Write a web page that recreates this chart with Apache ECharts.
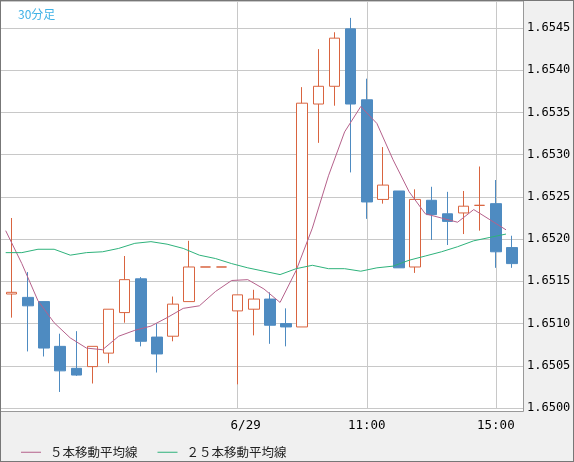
<!DOCTYPE html>
<html>
<head>
<meta charset="utf-8">
<script src="https://cdn.jsdelivr.net/npm/echarts@6/dist/echarts.min.js"></script>
<style>
  html, body { margin: 0; padding: 0; background: #f0f0f0; }
  #wrap { position: relative; width: 574px; height: 462px; }
  #main { width: 574px; height: 462px; }
  #frame {
    position: absolute; left: 0; top: 0; width: 574px; height: 462px;
    box-sizing: border-box; border: 1px solid #777; pointer-events: none;
  }
</style>
</head>
<body>
<div id="wrap"><div id="main"></div><div id="frame"></div></div>
<script>
// 30分足のローソク足
const categories = [
  '6/27 00:00', '6/27 00:30', '6/27 01:00', '6/27 01:30', '6/27 02:00', '6/27 02:30',
  '6/27 03:00', '6/27 03:30', '6/27 04:00', '6/27 04:30', '6/27 05:00', '6/27 05:30',
  '6/27 06:00', '6/27 06:30', '6/29 07:00', '6/29 07:30', '6/29 08:00', '6/29 08:30',
  '6/29 09:00', '6/29 09:30', '6/29 10:00', '6/29 10:30', '6/29 11:00', '6/29 11:30',
  '6/29 12:00', '6/29 12:30', '6/29 13:00', '6/29 13:30', '6/29 14:00', '6/29 14:30',
  '6/29 15:00', '6/29 15:30'
]

// [始値, 終値, 安値, 高値]
const ohlc = [
  [1.65135, 1.65137, 1.65107, 1.65225],
  [1.65131, 1.65121, 1.65067, 1.65161],
  [1.65126, 1.65071, 1.65061, 1.65126],
  [1.65073, 1.65044, 1.65019, 1.65088],
  [1.65047, 1.65039, 1.65038, 1.65091],
  [1.65049, 1.65073, 1.65029, 1.65073],
  [1.65065, 1.65117, 1.65053, 1.65117],
  [1.65113, 1.65152, 1.65101, 1.65180],
  [1.65153, 1.65079, 1.65073, 1.65155],
  [1.65084, 1.65064, 1.65042, 1.65100],
  [1.65085, 1.65123, 1.65079, 1.65132],
  [1.65126, 1.65167, 1.65126, 1.65198],
  [1.65167, 1.65167, 1.65167, 1.65167],
  [1.65167, 1.65167, 1.65167, 1.65167],
  [1.65115, 1.65134, 1.65028, 1.65134],
  [1.65117, 1.65129, 1.65086, 1.65140],
  [1.65129, 1.65098, 1.65076, 1.65137],
  [1.65100, 1.65096, 1.65073, 1.65118],
  [1.65096, 1.65361, 1.65096, 1.65380],
  [1.65360, 1.65381, 1.65314, 1.65425],
  [1.65381, 1.65438, 1.65358, 1.65445],
  [1.65449, 1.65360, 1.65279, 1.65462],
  [1.65365, 1.65244, 1.65224, 1.65390],
  [1.65247, 1.65264, 1.65242, 1.65309],
  [1.65257, 1.65166, 1.65166, 1.65257],
  [1.65167, 1.65247, 1.65160, 1.65259],
  [1.65246, 1.65229, 1.65199, 1.65262],
  [1.65230, 1.65221, 1.65193, 1.65256],
  [1.65231, 1.65239, 1.65206, 1.65257],
  [1.65240, 1.65240, 1.65210, 1.65286],
  [1.65242, 1.65185, 1.65166, 1.65270],
  [1.65190, 1.65171, 1.65166, 1.65204]
]

// 移動平均線
const ma5 = [
  1.65210, 1.65171, 1.65127, 1.65101, 1.65083, 1.65071, 1.65069, 1.65085,
  1.65092, 1.65097, 1.65107, 1.65118, 1.65121, 1.65138, 1.65151, 1.65152,
  1.65141, 1.65125, 1.65163, 1.65213, 1.65275, 1.65327, 1.65357, 1.65337,
  1.65294, 1.65256, 1.65230, 1.65225, 1.65220, 1.65235, 1.65223, 1.65211
]
const ma25 = [
  1.65184, 1.65184, 1.65188, 1.65188, 1.65181, 1.65184, 1.65185, 1.65189,
  1.65195, 1.65197, 1.65194, 1.65189, 1.65181, 1.65177, 1.65171, 1.65166,
  1.65162, 1.65158, 1.65165, 1.65169, 1.65165, 1.65165, 1.65162, 1.65166,
  1.65168, 1.65175, 1.65180, 1.65185, 1.65191, 1.65198, 1.65202, 1.65206
]

// 時間軸ラベル
const tickCategories = ['6/29 07:00', '6/29 11:00', '6/29 15:00']
const tickLabels = ['6/29', '11:00', '15:00']

const yMin = 1.6500
const yMax = 1.65482
const yStep = 0.0005

const upColor = '#d9643f'
const downColor = '#4e8bc1'
const gridColor = '#c8c8c8'
const monoFont = 'DejaVu Sans Mono'
const jpFont = 'Noto Sans CJK JP'

const isTick = (index) => tickCategories.indexOf(categories[index]) >= 0

const chart = echarts.init(document.getElementById('main'))

const option = {
  animation: false,
  backgroundColor: 'transparent',
  title: {
    text: '30分足',
    left: 13,
    top: 3,
    textStyle: {color: '#3fb2e6', fontSize: 12, fontWeight: 'normal', fontFamily: jpFont},
  },
  legend: {
    left: 16,
    top: 441,
    icon: 'rect',
    itemWidth: 20,
    itemHeight: 1,
    itemGap: 20,
    data: ['５本移動平均線', '２５本移動平均線'],
    textStyle: {color: '#222', fontSize: 12.5, fontFamily: jpFont, padding: [0, 0, 0, 4]},
  },
  graphic: [{
    type: 'rect',
    z: -10,
    silent: true,
    shape: {x: 0.5, y: 0.5, width: 523, height: 411},
    style: {fill: '#fff', stroke: '#999', lineWidth: 1},
  }],
  grid: [
    // 横罫線と価格軸
    {left: 1, right: 51, top: 1, bottom: 54},
    // ローソク足
    {left: 11.7, right: 62.0, top: 1, bottom: 54},
    // 移動平均線
    {left: 5.7, right: 68.0, top: 1, bottom: 54},
  ],
  xAxis: [
    {gridIndex: 0, type: 'value', min: 0, max: 1, show: false},
    {
      gridIndex: 1,
      type: 'category',
      data: categories,
      boundaryGap: false,
      axisLine: {show: false},
      axisTick: {show: false},
      axisLabel: {
        interval: (index) => isTick(index),
        margin: 11,
        color: '#000',
        fontSize: 12.5,
        fontFamily: monoFont,
        formatter: (value) => {
          const label = tickLabels[tickCategories.indexOf(value)] || ''
          return label === '6/29' ? '{s|' + label + '}' : label
        },
        rich: {s: {padding: [0, 0, 0, 16], fontSize: 12.5, fontFamily: monoFont, color: '#000'}},
      },
      splitLine: {show: true, interval: (index) => isTick(index), lineStyle: {color: gridColor, width: 1}},
    },
    {gridIndex: 2, type: 'category', data: categories, boundaryGap: false, show: false},
  ],
  yAxis: [
    {
      gridIndex: 0,
      type: 'value',
      position: 'right',
      min: yMin,
      max: yMax,
      interval: yStep,
      axisLine: {show: false},
      axisTick: {show: false},
      axisLabel: {
        margin: 4,
        showMaxLabel: false,
        color: '#000',
        fontSize: 12,
        fontFamily: monoFont,
        formatter: (v) => v.toFixed(4),
      },
      splitLine: {show: true, lineStyle: {color: gridColor, width: 1}},
    },
    {gridIndex: 1, type: 'value', min: yMin, max: yMax, show: false},
    {gridIndex: 2, type: 'value', min: yMin, max: yMax, show: false},
  ],
  series: [
    {
      name: '30分足',
      type: 'candlestick',
      xAxisIndex: 1,
      yAxisIndex: 1,
      clip: false,
      barWidth: 11,
      data: ohlc,
      itemStyle: {
        color: '#fff',
        color0: downColor,
        borderColor: upColor,
        borderColor0: downColor,
        borderWidth: 1,
      },
    },
    {
      name: '５本移動平均線',
      type: 'line',
      xAxisIndex: 2,
      yAxisIndex: 2,
      data: ma5,
      symbol: 'none',
      color: '#b5618b',
      lineStyle: {width: 1, color: '#b5618b'},
      z: 3,
    },
    {
      name: '２５本移動平均線',
      type: 'line',
      xAxisIndex: 2,
      yAxisIndex: 2,
      data: ma25,
      symbol: 'none',
      color: '#2eb27b',
      lineStyle: {width: 1, color: '#2eb27b'},
      z: 3,
    },
  ],
}

chart.setOption(option)
</script>
</body>
</html>
